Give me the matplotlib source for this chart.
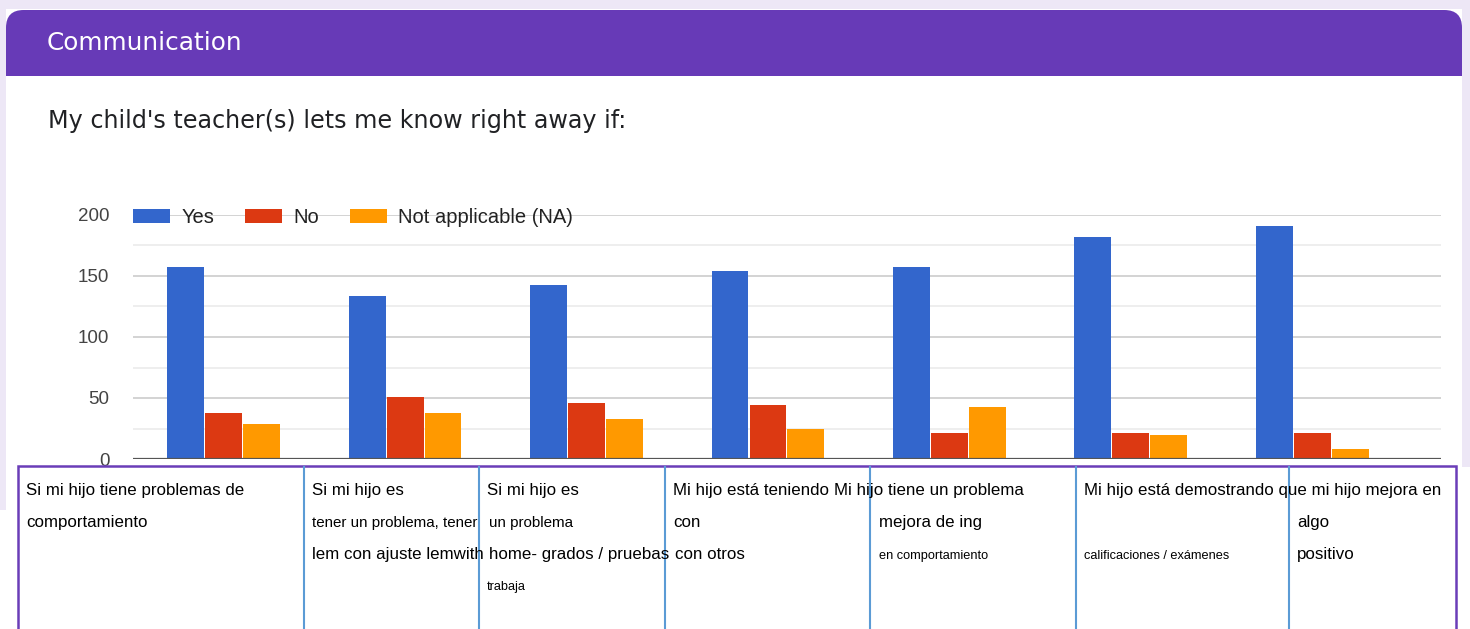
import numpy as np
import matplotlib.pyplot as plt
from matplotlib.patches import Rectangle, FancyBboxPatch

# data
yes_vals = [157, 134, 143, 154, 157, 182, 191]
no_vals = [38, 51, 46, 44, 21, 21, 21]
na_vals = [29, 38, 33, 25, 43, 20, 8]
series_names = ["Yes", "No", "Not applicable (NA)"]
series_colors = ["#3366CC", "#DC3912", "#FF9900"]
y_ticks = [0, 50, 100, 150, 200]

header_text = "Communication"
question_text = "My child's teacher(s) lets me know right away if:"

# the category labels under the chart, as they sit in the (broken) table
# (x px, baseline y px, text, size)
label_rows = [
    (26, 495, "Si mi hijo tiene problemas de", "main"),
    (26, 527, "comportamiento", "main"),
    (312, 495, "Si mi hijo es", "main"),
    (312, 527, "tener un problema, tener", "mid"),
    (312, 559, "lem con ajuste lemwith", "main"),
    (487, 495, "Si mi hijo es", "main"),
    (489, 527, "un problema", "mid"),
    (489, 559, "home- grados / pruebas", "main"),
    (487, 590, "trabaja", "small"),
    (673, 495, "Mi hijo está teniendo", "main"),
    (673, 527, "con", "main"),
    (675, 559, "con otros", "main"),
    (834, 495, "Mi hijo tiene un problema", "main"),
    (879, 527, "mejora de ing", "main"),
    (879, 559, "en comportamiento", "small"),
    (1084, 495, "Mi hijo está demostrando que mi hijo mejora en", "main"),
    (1084, 559, "calificaciones / exámenes", "small"),
    (1297, 527, "algo", "main"),
    (1297, 559, "positivo", "main"),
]
col_lines = [304, 479, 665, 870, 1076, 1289]
sizes = {"main": 12.2, "mid": 10.9, "small": 9.2}

W, H = 1470, 629
fig = plt.figure(figsize=(W / 100, H / 100), dpi=100)
fig.patch.set_facecolor("white")


def fx(x):
    return x / W


def fy(y):
    return 1 - y / H


lav = "#EDE7F6"
# page background bits around the card
fig.add_artist(Rectangle((0, fy(9)), 1, 9 / H, transform=fig.transFigure, fc=lav, ec="none"))
fig.add_artist(Rectangle((0, fy(510)), fx(6), (510) / H, transform=fig.transFigure, fc=lav, ec="none"))
fig.add_artist(Rectangle((fx(1462), fy(467)), fx(8), 467 / H, transform=fig.transFigure, fc=lav, ec="none"))

# purple header with rounded top
purple = "#673AB7"
fig.add_artist(FancyBboxPatch((fx(6), fy(76)), fx(1456), (76 - 10) / H,
                              boxstyle="round,pad=0,rounding_size=0.012",
                              mutation_aspect=W / H,
                              transform=fig.transFigure, fc=purple, ec="none"))
fig.add_artist(Rectangle((fx(6), fy(76)), fx(1456), 30 / H, transform=fig.transFigure, fc=purple, ec="none"))

fig.text(fx(47), fy(50), header_text, color="white", fontsize=17.8,
         family="DejaVu Sans", va="baseline", ha="left")
fig.text(fx(48), fy(128), question_text, color="#202124", fontsize=17.2,
         family="DejaVu Sans", va="baseline", ha="left")

# chart: groups sit every ~181 px, grid runs on to x=1441
ax = fig.add_axes([fx(133), fy(459), fx(1441) - fx(133), (459 - 215) / H])
ax.set_facecolor("none")
x = np.arange(len(yes_vals))
bw = 0.203
for i, (vals, name, col) in enumerate(zip([yes_vals, no_vals, na_vals], series_names, series_colors)):
    ax.bar(x + (i - 1) * (bw + 0.006), vals, width=bw, color=col, label=name, zorder=3)

ax.set_xlim(-0.5, 6.71)
ax.set_ylim(0, 200)
ax.set_yticks(y_ticks)
ax.set_yticks([25, 75, 125, 175], minor=True)
ax.set_xticks([])
ax.grid(axis="y", which="major", color="#cccccc", lw=1.2, zorder=0)
ax.grid(axis="y", which="minor", color="#ebebeb", lw=1.2, zorder=0)
ax.axhline(0, color="#555555", lw=1.6, zorder=4)
for s in ax.spines.values():
    s.set_visible(False)
ax.tick_params(axis="y", which="both", length=0, pad=17, labelsize=13.5, labelcolor="#444444")
for t in ax.get_yticklabels():
    t.set_family("Liberation Sans")

leg = ax.legend(loc="center left", bbox_to_anchor=(0, 0.99), ncol=3, frameon=False,
                prop={"family": "Liberation Sans", "size": 14.5},
                handlelength=1.84, handleheight=0.65, handletextpad=0.55,
                columnspacing=1.55, borderpad=0, borderaxespad=0)
for t in leg.get_texts():
    t.set_color("#222222")

# the label table under the chart
fig.add_artist(Rectangle((fx(18), fy(640)), fx(1456 - 18), (640 - 466) / H,
                         transform=fig.transFigure, fc="none", ec="#6A3DB8", lw=1.8, zorder=5))
for cx in col_lines:
    fig.add_artist(plt.Line2D([fx(cx), fx(cx)], [fy(467), 0], transform=fig.transFigure,
                              color="#5B9BD5", lw=1.5, zorder=5))
for px, py, txt, sz in label_rows:
    fig.text(fx(px), fy(py), txt, fontsize=sizes[sz], family="Liberation Sans",
             color="black", va="baseline", ha="left", zorder=6)

fig.savefig("out.png", dpi=100)
